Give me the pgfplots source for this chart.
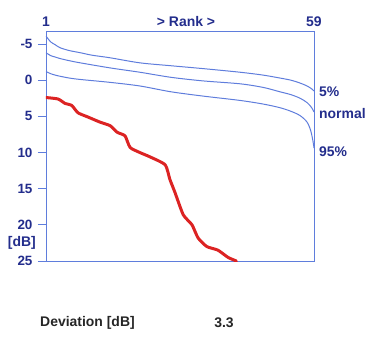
\documentclass[border=0pt]{standalone}
\usepackage{pgfplots}
\pgfplotsset{compat=1.18}
\usepackage{fontspec}
\setmainfont{Liberation Sans}
\definecolor{axblue}{RGB}{95,125,220}
\definecolor{txtblue}{RGB}{35,45,140}
\definecolor{redline}{RGB}{220,35,35}
\begin{document}
\begin{tikzpicture}[x=1bp,y=1bp]
\useasboundingbox (-46,-77) rectangle (326,261);
\begin{axis}[name=ax, at={(0,0)}, anchor=south west, scale only axis,
  width=268bp, height=230bp,
  xmin=1, xmax=59, ymin=-6.8, ymax=25, y dir=reverse,
  axis line style={axblue, line width=0.9bp},
  xtick={1,31.3,59}, xticklabels={1,{> Rank >},59},
  xticklabel pos=upper, x tick style={draw=none},
  xticklabel style={font=\bfseries\fontsize{14}{16}\selectfont, yshift=-7bp},
  ytick={-5,0,5,10,15,20,25}, yticklabels={-5,0,5,10,15,20,25},
  ytick pos=left, y tick style={axblue, line width=0.9bp},
  yticklabel style={font=\bfseries\fontsize{13.5}{16}\selectfont, xshift=-2bp},
  major tick length=8bp, tick align=outside,
  tick label style={text=txtblue},
  clip=true,
]
\addplot[axblue, line width=1bp, smooth, tension=0.5] coordinates {
(1,-6.1)(2,-5.3)(3,-4.9)(4,-4.5)(6,-4.1)(8.4,-3.8)(11,-3.45)(14.85,-3.1)(21.3,-2.4)(28,-2.0)(35,-1.6)(43,-1.1)(48,-0.7)(51.6,-0.3)(54,0.0)(56,0.4)(57.5,0.8)(58.5,1.2)(59,1.5)};
\addplot[axblue, line width=1bp, smooth, tension=0.5] coordinates {
(1,-3.8)(2,-3.4)(3,-3.2)(4,-3.0)(6,-2.7)(8.4,-2.4)(14.85,-1.7)(21.3,-1.1)(28,-0.4)(35,0.1)(43,0.5)(48,1.0)(51.6,1.6)(54,2.0)(56,2.5)(57.5,3.1)(58.5,3.8)(59,4.4)};
\addplot[axblue, line width=1bp, smooth, tension=0.5] coordinates {
(1,-1.2)(2,-0.9)(3,-0.7)(4,-0.55)(6,-0.3)(8.4,-0.1)(14.85,0.3)(21.3,0.8)(28,1.6)(35,2.2)(43,2.8)(48,3.3)(51.6,3.8)(54,4.3)(56,4.9)(57.5,5.8)(58.3,7.0)(58.8,8.5)(59,9.4)};
\addplot[redline, line width=3bp, line join=round, line cap=round, smooth, tension=0.35] coordinates {
(1,2.4)(3.6,2.6)(5.1,3.2)(6.6,3.5)(7.9,4.5)(10.1,5.1)(12.7,5.8)(14.9,6.3)(16.4,7.2)(18.1,7.7)(19.2,9.3)(21.3,10.0)(23.5,10.6)(26.8,11.7)(27.8,13.7)(28.9,15.5)(30.7,18.6)(32.6,20.0)(33.9,21.8)(35.8,23.0)(38.2,23.5)(40.4,24.5)(42.2,25)};
\end{axis}
\begin{scope}[font=\bfseries\fontsize{14}{16}\selectfont, text=txtblue]
\node[anchor=east, inner sep=0pt] at (-10,18) {[dB]};
\node[anchor=west, inner sep=0pt] at (273,169) {5\%};
\node[anchor=west, inner sep=0pt] at (273,147) {normal};
\node[anchor=west, inner sep=0pt] at (273,109) {95\%};
\end{scope}
\begin{scope}[font=\bfseries\fontsize{14}{16}\selectfont, text=black!85]
\node[anchor=west, inner sep=0pt] at (-6,-62) {Deviation [dB]};
\node[inner sep=0pt] at (178,-62) {3.3};
\end{scope}
\end{tikzpicture}
\end{document}
